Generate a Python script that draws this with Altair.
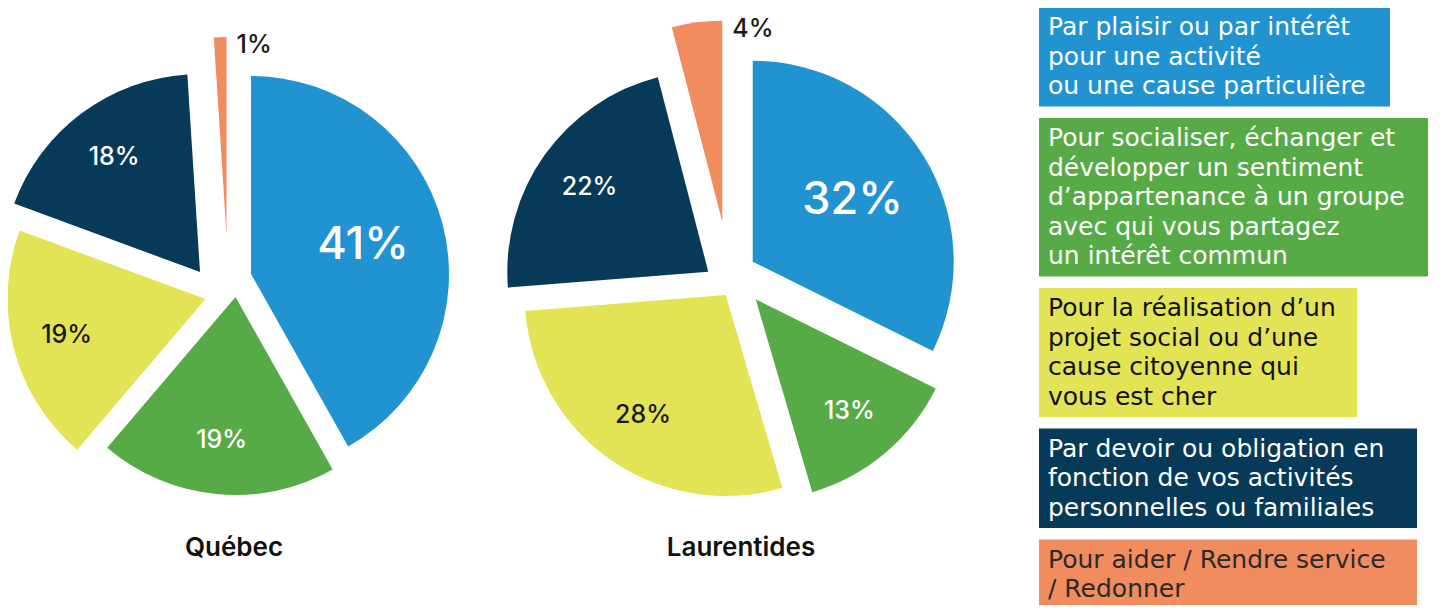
import altair as alt
import pandas as pd

# ---------------- data ----------------
categories = [
    "Par plaisir ou par intérêt\npour une activité\nou une cause particulière",
    "Pour socialiser, échanger et\ndévelopper un sentiment\nd’appartenance à un groupe\navec qui vous partagez\nun intérêt commun",
    "Pour la réalisation d’un\nprojet social ou d’une\ncause citoyenne qui\nvous est cher",
    "Par devoir ou obligation en\nfonction de vos activités\npersonnelles ou familiales",
    "Pour aider / Rendre service\n/ Redonner",
]
regions = ["Québec", "Laurentides"]
quebec = [41, 19, 19, 18, 1]
laurentides = [32, 13, 28, 22, 4]

# ---------------- style / layout ----------------
FONT = "Inter"
LEG_FONT = "DejaVu Sans"
colors = ["#2293D1", "#57AB46", "#E2E456", "#063A58", "#F08C5E"]
label_colors = ["#FFFFFF", "#FFFFFF", "#1A1A1A", "#FFFFFF", "#1A1A1A"]
legend_text_colors = ["#FFFFFF", "#FFFFFF", "#111111", "#FFFFFF", "#2A2A2A"]
W, H = 1424, 597
PIE = {"Québec": dict(cx=220, cy=272, r=198, tx=226, ty=540),
       "Laurentides": dict(cx=727, cy=267, r=201, tx=733, ty=540)}
# explode offsets (px) of each slice's apex from the pie centre
EXPLODE = {"Québec": [(23, -6), (7.5, 17), (-22.5, 19), (-28, -8), (-1.5, -45)],
           "Laurentides": [(17.7, -13.3), (20.7, 24.3), (-9.3, 20), (-26.7, -3.3), (-12.7, -53.3)]}
LABEL_R = [0.585, 0.725, 0.725, 0.725, 0.96]   # fraction of radius
LABEL_FS = [45, 25, 25, 25, 25]
LEG_X1, LEG_TX = 1031, 1040
LEG_X2 = [1382, 1420, 1349, 1409, 1409]
LEG_TOP0, LEG_GAP, LINE_H, LEG_PAD, LEG_BASE = -1, 11.5, 29.5, 11, 28

# ---------------- tables ----------------
rows = []
for reg, vals in zip(regions, [quebec, laurentides]):
    p = PIE[reg]
    for i, (cat, v) in enumerate(zip(categories, vals)):
        rows.append(dict(region=reg, category=cat, order=i, value=v,
                         cx=p["cx"] + EXPLODE[reg][i][0],
                         cy=p["cy"] + EXPLODE[reg][i][1],
                         r=p["r"], lr=LABEL_R[i] * p["r"],
                         fs=LABEL_FS[i], lc=label_colors[i],
                         label=f"{v}%"))
df = pd.DataFrame(rows)

titles = pd.DataFrame([dict(region=r, tx=PIE[r]["tx"], ty=PIE[r]["ty"]) for r in regions])

leg_rows = []
top = LEG_TOP0
for i, cat in enumerate(categories):
    n = cat.count("\n") + 1
    h = n * LINE_H + LEG_PAD
    leg_rows.append(dict(category=cat, y1=top, y2=top + h, yt=top + LEG_BASE,
                         x1=LEG_X1, x2=LEG_X2[i], tx=LEG_TX,
                         fill=colors[i], tc=legend_text_colors[i]))
    top += h + LEG_GAP
leg = pd.DataFrame(leg_rows)

# ---------------- chart ----------------
base = (alt.Chart(df)
        .transform_joinaggregate(total="sum(value)", groupby=["region"])
        .transform_window(cum="sum(value)", groupby=["region"],
                          sort=[alt.SortField("order")], frame=[None, 0])
        .transform_calculate(t0="2*PI*(datum.cum-datum.value)/datum.total",
                             t1="2*PI*datum.cum/datum.total")
        .transform_calculate(tm="(datum.t0+datum.t1)/2"))

arcs = base.mark_arc(stroke=None).encode(
    x=alt.X("cx:Q", scale=None, axis=None),
    y=alt.Y("cy:Q", scale=None, axis=None),
    theta=alt.Theta("t0:Q", scale=None),
    theta2="t1:Q",
    radius=alt.Radius("r:Q", scale=None),
    color=alt.Color("category:N", scale=alt.Scale(domain=categories, range=colors), legend=None),
)

inside = (base.transform_filter("datum.order < 4")
          .transform_calculate(lx="datum.cx + datum.lr*sin(datum.tm)",
                               ly="datum.cy - datum.lr*cos(datum.tm)")
          .mark_text(font=FONT, fontWeight=500, align="center", baseline="middle")
          .encode(x=alt.X("lx:Q", scale=None, axis=None),
                  y=alt.Y("ly:Q", scale=None, axis=None),
                  text="label:N",
                  size=alt.Size("fs:Q", scale=None, legend=None),
                  color=alt.Color("lc:N", scale=None)))

outside = (base.transform_filter("datum.order == 4")
           .transform_calculate(lx="datum.cx + datum.lr*sin(datum.t1) + 10",
                                ly="datum.cy - datum.lr*cos(datum.t1)")
           .mark_text(font=FONT, fontWeight=500, align="left", baseline="middle")
           .encode(x=alt.X("lx:Q", scale=None, axis=None),
                   y=alt.Y("ly:Q", scale=None, axis=None),
                   text="label:N",
                   size=alt.Size("fs:Q", scale=None, legend=None),
                   color=alt.Color("lc:N", scale=None)))

title_text = alt.Chart(titles).mark_text(font=FONT, fontWeight=600, fontSize=26,
                                         color="#111111", align="center",
                                         baseline="middle").encode(
    x=alt.X("tx:Q", scale=None, axis=None),
    y=alt.Y("ty:Q", scale=None, axis=None),
    text="region:N")

leg_rect = alt.Chart(leg).mark_rect().encode(
    x=alt.X("x1:Q", scale=None, axis=None), x2="x2:Q",
    y=alt.Y("y1:Q", scale=None, axis=None), y2="y2:Q",
    color=alt.Color("fill:N", scale=None))

leg_text = alt.Chart(leg).mark_text(font=LEG_FONT, fontSize=25, align="left",
                                    baseline="alphabetic", lineBreak="\n",
                                    lineHeight=LINE_H).encode(
    x=alt.X("tx:Q", scale=None, axis=None),
    y=alt.Y("yt:Q", scale=None, axis=None),
    text="category:N",
    color=alt.Color("tc:N", scale=None))

chart = (alt.layer(arcs, inside, outside, title_text, leg_rect, leg_text)
         .properties(width=W, height=H, padding=0, autosize="none")
         .configure_view(stroke=None))

chart.save("out.html", embed_options={"renderer": "svg", "actions": False})
